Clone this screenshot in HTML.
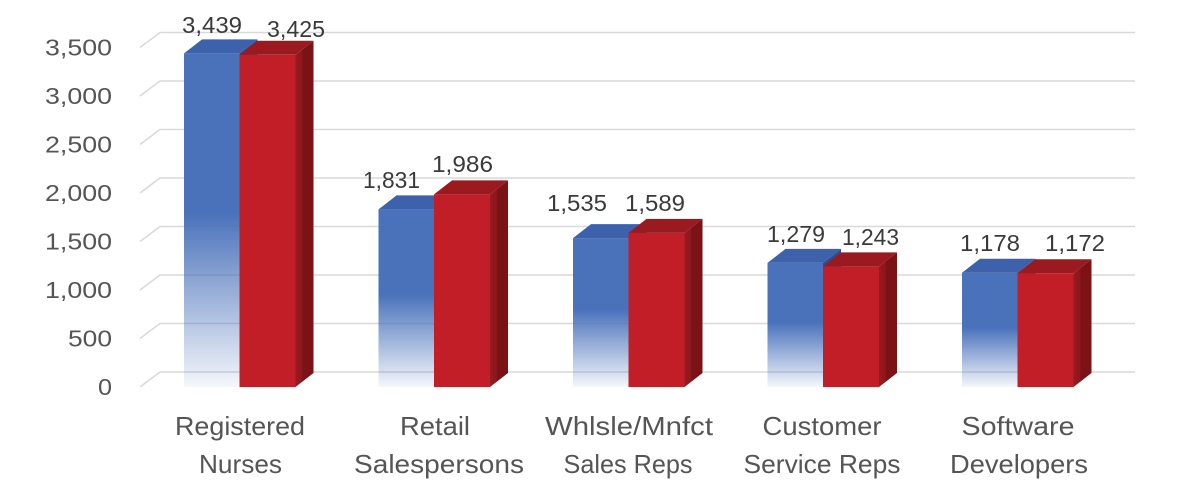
<!DOCTYPE html>
<html>
<head>
<meta charset="utf-8">
<style>
  html,body{margin:0;padding:0;background:#fff;}
  svg{display:block;}
  .yl{font-family:"Liberation Sans",sans-serif;font-size:23px;fill:#555555;}
  .cl{font-family:"Liberation Sans",sans-serif;font-size:26px;fill:#555555;}
  .vl{font-family:"Liberation Sans",sans-serif;font-size:23px;fill:#3a3a3a;}
</style>
</head>
<body>
<svg width="1200" height="480" viewBox="0 0 1200 480" xmlns="http://www.w3.org/2000/svg">
  <defs>
    <linearGradient id="bg" x1="0" y1="0" x2="0" y2="1">
      <stop offset="0" stop-color="#4a72bb" stop-opacity="1"/>
      <stop offset="0.48" stop-color="#4a72bb" stop-opacity="1"/>
      <stop offset="1" stop-color="#4a72bb" stop-opacity="0.06"/>
    </linearGradient>
    <linearGradient id="rs" x1="0" y1="0" x2="1" y2="0">
      <stop offset="0" stop-color="#9a1a1f"/>
      <stop offset="0.35" stop-color="#8c171b"/>
      <stop offset="0.42" stop-color="#7a1216"/>
      <stop offset="1" stop-color="#7a1216"/>
    </linearGradient>
  </defs>
  <rect width="1200" height="480" fill="#fff"/>

  <!-- gridlines -->
  <g fill="none" stroke="#d9d9d9" stroke-width="1.5">
    <polyline points="140,387 160,372 1135,372"/>
    <polyline points="140,338.5 160,323.5 1135,323.5"/>
    <polyline points="140,290 160,275 1135,275"/>
    <polyline points="140,241.5 160,226.5 1135,226.5"/>
    <polyline points="140,193 160,178 1135,178"/>
    <polyline points="140,144.5 160,129.5 1135,129.5"/>
    <polyline points="140,96 160,81 1135,81"/>
    <polyline points="140,47.5 160,32.5 1135,32.5"/>
  </g>

  <!-- y labels -->
  <g class="yl" text-anchor="end">
    <text x="112" y="395" textLength="14" lengthAdjust="spacingAndGlyphs">0</text>
    <text x="112" y="346.5" textLength="44" lengthAdjust="spacingAndGlyphs">500</text>
    <text x="112" y="298" textLength="67" lengthAdjust="spacingAndGlyphs">1,000</text>
    <text x="112" y="249.5" textLength="67" lengthAdjust="spacingAndGlyphs">1,500</text>
    <text x="112" y="201" textLength="67" lengthAdjust="spacingAndGlyphs">2,000</text>
    <text x="112" y="152.5" textLength="67" lengthAdjust="spacingAndGlyphs">2,500</text>
    <text x="112" y="104" textLength="67" lengthAdjust="spacingAndGlyphs">3,000</text>
    <text x="112" y="55.5" textLength="67" lengthAdjust="spacingAndGlyphs">3,500</text>
  </g>

  <!-- Group 0 -->
  <rect x="184" y="53.4" width="55.5" height="333.6" fill="url(#bg)"/>
  <polygon points="184,53.4 239.5,53.4 257.5,39.4 202,39.4" fill="#3d62ab"/>
  <polygon points="239.5,53.4 257.5,39.4 257.5,373 239.5,387" fill="#2e4d8c"/>
  <rect x="239.5" y="54.8" width="56" height="332.2" fill="#c11e27"/>
  <polygon points="295.5,54.8 313.5,40.8 313.5,373 295.5,387" fill="url(#rs)"/>
  <polygon points="239.5,54.8 295.5,54.8 313.5,40.8 257.5,40.8" fill="#9b1a1f"/>

  <!-- Group 1 -->
  <rect x="378.5" y="209.4" width="55.5" height="177.6" fill="url(#bg)"/>
  <polygon points="378.5,209.4 434,209.4 452,195.4 396.5,195.4" fill="#3d62ab"/>
  <polygon points="434,209.4 452,195.4 452,373 434,387" fill="#2e4d8c"/>
  <rect x="434" y="194.4" width="56" height="192.6" fill="#c11e27"/>
  <polygon points="490,194.4 508,180.4 508,373 490,387" fill="url(#rs)"/>
  <polygon points="434,194.4 490,194.4 508,180.4 452,180.4" fill="#9b1a1f"/>

  <!-- Group 2 -->
  <rect x="573" y="238.1" width="55.5" height="148.9" fill="url(#bg)"/>
  <polygon points="573,238.1 628.5,238.1 646.5,224.1 591,224.1" fill="#3d62ab"/>
  <polygon points="628.5,238.1 646.5,224.1 646.5,373 628.5,387" fill="#2e4d8c"/>
  <rect x="628.5" y="232.9" width="56" height="154.1" fill="#c11e27"/>
  <polygon points="684.5,232.9 702.5,218.9 702.5,373 684.5,387" fill="url(#rs)"/>
  <polygon points="628.5,232.9 684.5,232.9 702.5,218.9 646.5,218.9" fill="#9b1a1f"/>

  <!-- Group 3 -->
  <rect x="767.5" y="262.9" width="55.5" height="124.1" fill="url(#bg)"/>
  <polygon points="767.5,262.9 823,262.9 841,248.9 785.5,248.9" fill="#3d62ab"/>
  <polygon points="823,262.9 841,248.9 841,373 823,387" fill="#2e4d8c"/>
  <rect x="823" y="266.4" width="56" height="120.6" fill="#c11e27"/>
  <polygon points="879,266.4 897,252.4 897,373 879,387" fill="url(#rs)"/>
  <polygon points="823,266.4 879,266.4 897,252.4 841,252.4" fill="#9b1a1f"/>

  <!-- Group 4 -->
  <rect x="962" y="272.7" width="55.5" height="114.3" fill="url(#bg)"/>
  <polygon points="962,272.7 1017.5,272.7 1035.5,258.7 980,258.7" fill="#3d62ab"/>
  <polygon points="1017.5,272.7 1035.5,258.7 1035.5,373 1017.5,387" fill="#2e4d8c"/>
  <rect x="1017.5" y="273.3" width="56" height="113.7" fill="#c11e27"/>
  <polygon points="1073.5,273.3 1091.5,259.3 1091.5,373 1073.5,387" fill="url(#rs)"/>
  <polygon points="1017.5,273.3 1073.5,273.3 1091.5,259.3 1035.5,259.3" fill="#9b1a1f"/>

  <!-- value labels -->
  <g class="vl">
    <text x="182" y="33" textLength="60" lengthAdjust="spacingAndGlyphs">3,439</text>
    <text x="267" y="37" textLength="58" lengthAdjust="spacingAndGlyphs">3,425</text>
    <text x="363" y="188" textLength="57" lengthAdjust="spacingAndGlyphs">1,831</text>
    <text x="432" y="172" textLength="61" lengthAdjust="spacingAndGlyphs">1,986</text>
    <text x="547" y="211" textLength="60" lengthAdjust="spacingAndGlyphs">1,535</text>
    <text x="625" y="211" textLength="60" lengthAdjust="spacingAndGlyphs">1,589</text>
    <text x="767" y="242" textLength="58" lengthAdjust="spacingAndGlyphs">1,279</text>
    <text x="842" y="245" textLength="57" lengthAdjust="spacingAndGlyphs">1,243</text>
    <text x="960" y="251" textLength="60" lengthAdjust="spacingAndGlyphs">1,178</text>
    <text x="1045" y="251" textLength="60" lengthAdjust="spacingAndGlyphs">1,172</text>
  </g>

  <!-- category labels -->
  <g class="cl" text-anchor="middle">
    <text x="240" y="435" textLength="130" lengthAdjust="spacingAndGlyphs">Registered</text>
    <text x="240.5" y="473" textLength="83" lengthAdjust="spacingAndGlyphs">Nurses</text>
    <text x="435" y="435" textLength="70" lengthAdjust="spacingAndGlyphs">Retail</text>
    <text x="439" y="473" textLength="170" lengthAdjust="spacingAndGlyphs">Salespersons</text>
    <text x="629" y="435" textLength="168" lengthAdjust="spacingAndGlyphs">Whlsle/Mnfct</text>
    <text x="628" y="473" textLength="129" lengthAdjust="spacingAndGlyphs">Sales Reps</text>
    <text x="822" y="435" textLength="119" lengthAdjust="spacingAndGlyphs">Customer</text>
    <text x="822" y="473" textLength="157" lengthAdjust="spacingAndGlyphs">Service Reps</text>
    <text x="1018" y="435" textLength="113" lengthAdjust="spacingAndGlyphs">Software</text>
    <text x="1019" y="473" textLength="138" lengthAdjust="spacingAndGlyphs">Developers</text>
  </g>
</svg>
</body>
</html>
